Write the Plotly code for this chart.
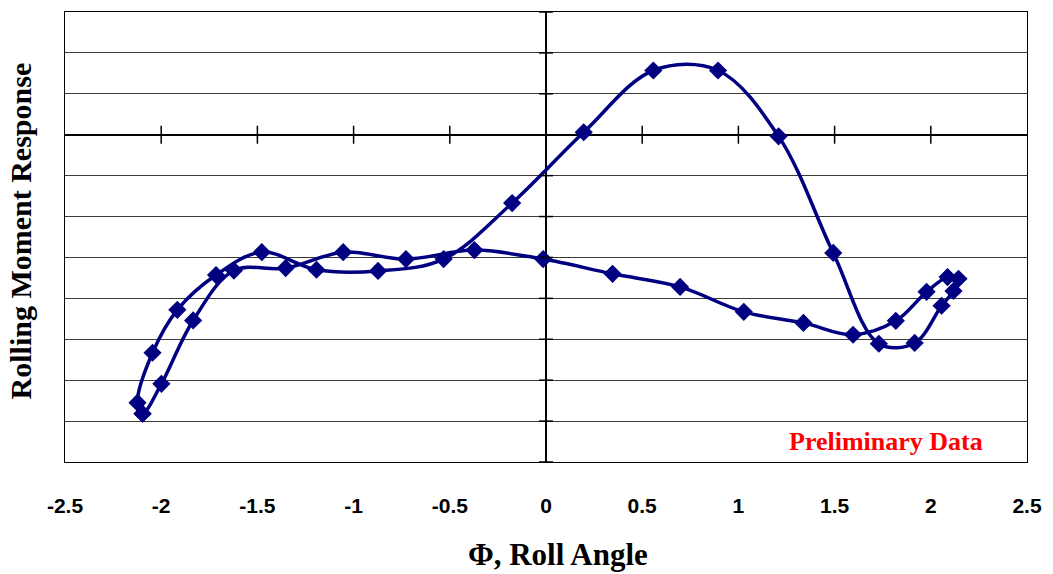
import plotly.graph_objects as go

# Roll angle (phi) and rolling moment response, traced as one hysteresis loop
phi = [-2.097, -1.999, -1.834, -1.622, -1.353, -1.054, -0.728, -0.372, -0.015,
       0.346, 0.697, 1.028, 1.338, 1.596, 1.818, 1.978, 2.087, 2.144,
       2.118, 2.056, 1.916, 1.730, 1.493, 1.209, 0.894, 0.558, 0.196,
       -0.176, -0.532, -0.873, -1.193, -1.477, -1.715, -1.916, -2.045, -2.123]
moment = [-6.82, -6.09, -4.54, -3.32, -3.26, -2.87, -3.04, -2.82, -3.04,
          -3.40, -3.72, -4.33, -4.60, -4.89, -4.55, -3.84, -3.48, -3.52,
          -3.82, -4.18, -5.09, -5.11, -2.89, -0.04, 1.57, 1.57, 0.06,
          -1.67, -3.04, -3.33, -3.30, -2.87, -3.43, -4.28, -5.33, -6.55]

x_ticks = [-2.5, -2, -1.5, -1, -0.5, 0, 0.5, 1, 1.5, 2, 2.5]
x_tick_labels = ["-2.5", "-2", "-1.5", "-1", "-0.5", "0", "0.5", "1", "1.5", "2", "2.5"]
y_ticks = [-8, -7, -6, -5, -4, -3, -2, -1, 0, 1, 2, 3]

NAVY = "#000080"

fig = go.Figure()
fig.add_trace(go.Scatter(
    x=phi + phi[:1], y=moment + moment[:1],
    mode="lines+markers",
    line=dict(color=NAVY, width=3.5, shape="spline", smoothing=1),
    marker=dict(symbol="diamond", size=14, color=NAVY),
    showlegend=False, hoverinfo="skip",
))

shapes = []
# cross tick marks on the x axis (which sits at y = 0)
for t in x_ticks[1:-1]:
    shapes.append(dict(type="line", xref="x", yref="y", x0=t, x1=t,
                       ysizemode="pixel", yanchor=0, y0=-9, y1=9,
                       line=dict(color="black", width=1.5)))
# cross tick marks on the y axis (which sits at x = 0)
for t in y_ticks:
    shapes.append(dict(type="line", xref="x", yref="y", y0=t, y1=t,
                       xsizemode="pixel", xanchor=0, x0=-7, x1=7,
                       line=dict(color="black", width=1.5)))

fig.update_layout(
    width=1053, height=574,
    margin=dict(l=65, r=21, t=11, b=112),
    paper_bgcolor="white", plot_bgcolor="white",
    shapes=shapes,
    xaxis=dict(
        range=[-2.5, 2.5], tickmode="array", tickvals=x_ticks,
        ticktext=["<b>" + s + "</b>" for s in x_tick_labels],
        showgrid=False, zeroline=True, zerolinecolor="black", zerolinewidth=2,
        showline=True, linecolor="black", linewidth=1, mirror=True,
        ticks="outside", ticklen=25, tickcolor="rgba(0,0,0,0)",
        tickfont=dict(family="Liberation Sans Narrow, Liberation Sans, Arial", size=21, color="black"),
    ),
    yaxis=dict(
        range=[-8, 3], tickmode="array", tickvals=y_ticks, showticklabels=False,
        showgrid=True, gridcolor="#3a3a3a", gridwidth=1,
        zeroline=True, zerolinecolor="black", zerolinewidth=2,
        showline=True, linecolor="black", linewidth=1, mirror=True, ticks="",
    ),
    annotations=[
        dict(text="<b>Φ, Roll Angle</b>", xref="paper", yref="paper",
             x=0.512, y=-0.205, xanchor="center", yanchor="middle", showarrow=False,
             font=dict(family="Liberation Serif, Times New Roman, serif", size=31, color="black")),
        dict(text="<b>Rolling Moment Response</b>", xref="paper", yref="paper",
             x=-0.046, y=0.514, xanchor="center", yanchor="middle", textangle=-90,
             showarrow=False,
             font=dict(family="Liberation Serif, Times New Roman, serif", size=30, color="black")),
        dict(text="<b>Preliminary Data</b>", xref="paper", yref="paper",
             x=0.853, y=0.045, xanchor="center", yanchor="middle", showarrow=False,
             font=dict(family="Liberation Serif, Times New Roman, serif", size=26, color="red")),
    ],
)

fig.write_html("out.html")
